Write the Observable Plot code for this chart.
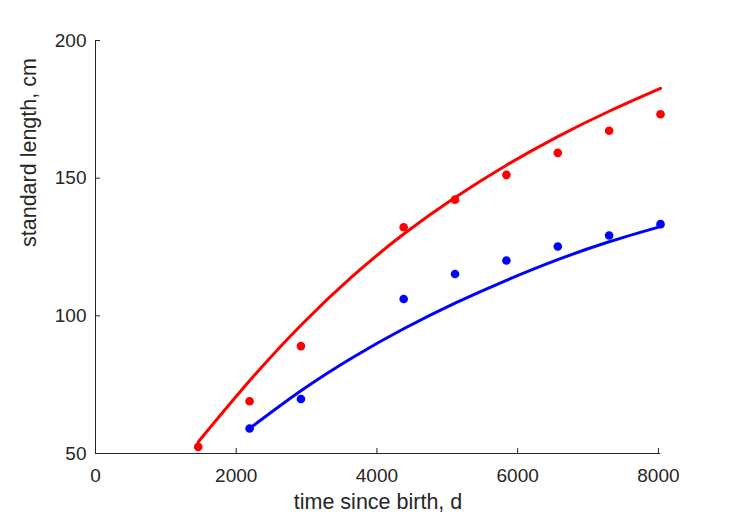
<!DOCTYPE html>
<html><head><meta charset="utf-8">
<script src="https://cdn.jsdelivr.net/npm/d3@7"></script>
<script src="https://cdn.jsdelivr.net/npm/@observablehq/plot@0.6"></script>
<style>body{margin:0;background:#fff} #chart svg{display:block}</style>
</head><body><div id="chart"></div>
<script>
// observed points (time since birth in days, standard length in cm)
const redAges = [1460, 2190, 2920, 4380, 5110, 5840, 6570, 7300, 8030];
const redLength = [52.4, 69.0, 89.0, 132.2, 142.2, 151.2, 159.2, 167.2, 173.2];
const blueAges = [2190, 2920, 4380, 5110, 5840, 6570, 7300, 8030];
const blueLength = [59.1, 69.8, 106.1, 115.2, 120.1, 125.2, 129.2, 133.3];
// fitted growth curves
const redFitAges = [1460, 2190, 2920, 3650, 4380, 5110, 5840, 6570, 7300, 8030];
const redFit = [54.2, 76.4, 96.6, 114.3, 129.7, 143.0, 154.7, 165.1, 174.3, 182.6];
const blueFitAges = [2190, 2920, 3650, 4380, 5110, 5840, 6570, 7300, 8030];
const blueFit = [59.1, 72.8, 84.8, 95.3, 104.6, 112.9, 120.4, 126.9, 132.4];
// axes
const xTicks = [0, 2000, 4000, 6000, 8000];
const yTicks = [50, 100, 150, 200];
const xDomain = [0, 8030];
const yDomain = [50, 200];
const xLabel = "time since birth, d";
const yLabel = "standard length, cm";

const redPts = redAges.map((t, i) => ({t, L: redLength[i]}));
const bluePts = blueAges.map((t, i) => ({t, L: blueLength[i]}));
const redCurve = redFitAges.map((t, i) => ({t, L: redFit[i]}));
const blueCurve = blueFitAges.map((t, i) => ({t, L: blueFit[i]}));

const W = 729, H = 521, mL = 95, mR = 69, mT = 40, mB = 68;
const plotW = W - mL - mR, plotH = H - mT - mB, tick = 5;
const ink = "#262626";
const fmt = d => String(d);
const chart = Plot.plot({
  width: W, height: H,
  marginLeft: mL, marginRight: mR, marginTop: mT, marginBottom: mB,
  style: {fontFamily: "'Liberation Sans', Arial, Helvetica, sans-serif", color: ink, background: "#fff", overflow: "visible"},
  x: {domain: xDomain},
  y: {domain: yDomain},
  marks: [
    Plot.ruleY([yDomain[0]], {stroke: ink, strokeWidth: 1}),
    Plot.ruleX([xDomain[0]], {stroke: ink, strokeWidth: 1}),
    Plot.tickX(xTicks, {x: d => d, stroke: ink, insetTop: plotH - tick}),
    Plot.tickY(yTicks, {y: d => d, stroke: ink, insetRight: plotW - tick}),
    Plot.axisX(xTicks, {tickSize: 0, tickPadding: 15, fontSize: 19, label: null, tickFormat: fmt}),
    Plot.axisY(yTicks, {tickSize: 0, tickPadding: 9, fontSize: 19, label: null, tickFormat: fmt}),
    Plot.dot(redPts, {x: "t", y: "L", r: 4.3, fill: "#ff0000"}),
    Plot.dot(bluePts, {x: "t", y: "L", r: 4.3, fill: "#0000ff"}),
    Plot.line(redCurve, {x: "t", y: "L", stroke: "#ff0000", strokeWidth: 3, curve: "natural"}),
    Plot.line(blueCurve, {x: "t", y: "L", stroke: "#0000ff", strokeWidth: 3, curve: "natural"}),
    Plot.text([xLabel], {frameAnchor: "bottom", dy: 55, fontSize: 21.5, fill: ink}),
    Plot.text([yLabel], {frameAnchor: "left", dx: -66, rotate: -90, fontSize: 21.5, fill: ink})
  ]
});
document.getElementById("chart").append(chart);
</script>
</body></html>
